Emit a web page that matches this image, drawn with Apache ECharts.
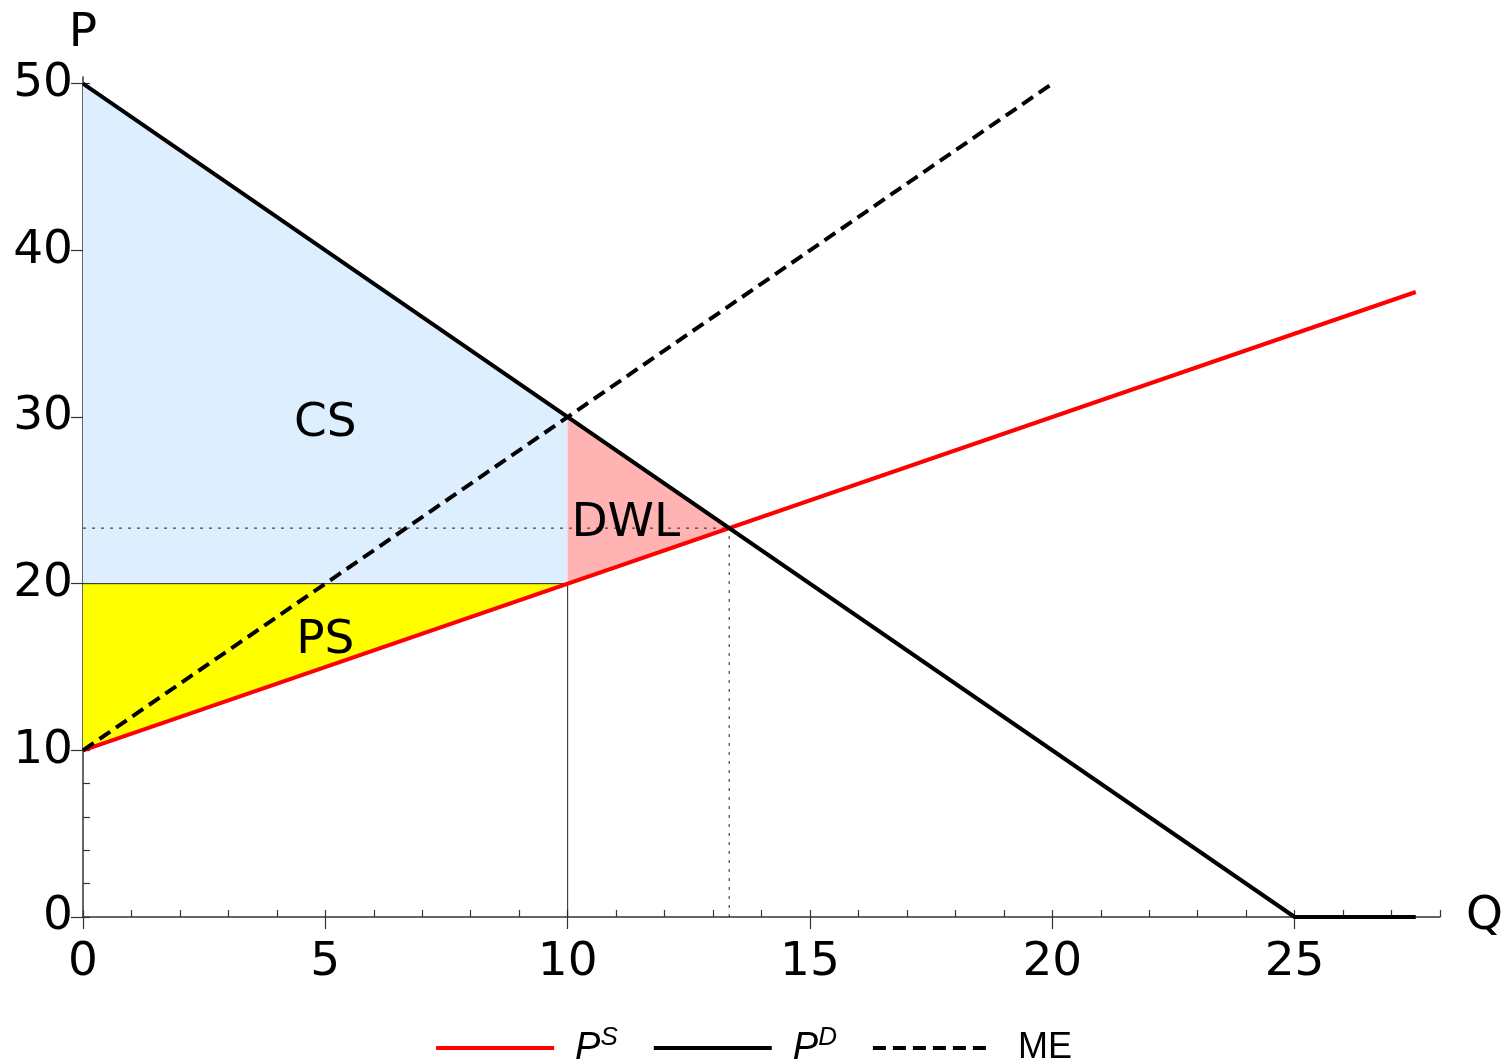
<!DOCTYPE html>
<html>
<head>
<meta charset="utf-8">
<script src="https://cdn.jsdelivr.net/npm/echarts@6/dist/echarts.min.js"></script>
<style>
  html, body { margin: 0; padding: 0; background: #fff; }
  #chart { width: 1506px; height: 1064px; }
</style>
</head>
<body>
<div id="chart"></div>
<script>
// curves (Q, P)
const supplyPts = [[0, 10], [27.5, 37.5]];
const demandPts = [[0, 50], [25, 0], [27.5, 0]];
const mePts = [[0, 10], [20, 50]];

// shaded areas
const csPoly = [[0, 50], [10, 30], [10, 20], [0, 20]];
const psPoly = [[0, 10], [10, 20], [0, 20]];
const dwlPoly = [[10, 20], [10, 30], [40 / 3, 70 / 3]];

// guide lines
const priceLine = [[0, 20], [10, 20]];
const qtyLine = [[10, 0], [10, 20]];
const eqPriceLine = [[0, 70 / 3], [40 / 3, 70 / 3]];
const eqQtyLine = [[40 / 3, 0], [40 / 3, 70 / 3]];

// area labels
const areaLabels = [
  { text: "CS", at: [5, 29.6] },
  { text: "PS", at: [5, 16.6] },
  { text: "DWL", at: [11.2, 23.6] },
];

// ticks
const xMajorTicks = [0, 5, 10, 15, 20, 25];
const xMinorTicks = [0, 1, 2, 3, 4, 5, 6, 7, 8, 9, 10, 11, 12, 13, 14, 15, 16, 17, 18, 19, 20, 21, 22, 23, 24, 25, 26, 27, 28];
const yMajorTicks = [0, 10, 20, 30, 40, 50];
const yMinorTicks = [0, 2, 4, 6, 8, 10, 12, 14, 16, 18, 20, 22, 24, 26, 28, 30, 32, 34, 36, 38, 40, 42, 44, 46, 48, 50];

const FONT = "DejaVu Sans";
const FONT_SIZE = 47;
const AXIS_COLOR = "#333";

function polygonSeries(points, color) {
  return {
    type: "custom",
    coordinateSystem: "cartesian2d",
    silent: true,
    z: 1,
    data: [0],
    renderItem: (params, api) => ({
      type: "polygon",
      shape: { points: points.map((p) => api.coord(p)) },
      style: { fill: color },
    }),
  };
}

function lineSeries(name, data, color, width, type, z) {
  return {
    name: name,
    type: "line",
    data: data,
    showSymbol: false,
    symbol: "none",
    silent: true,
    z: z,
    lineStyle: { color: color, width: width, type: type },
    itemStyle: { color: color },
  };
}

const chart = echarts.init(document.getElementById("chart"), null, { renderer: "canvas" });

const baseXAxis = {
  type: "value",
  min: 0,
  max: 28,
  splitLine: { show: false },
};
const baseYAxis = {
  type: "value",
  min: 0,
  max: 50.4,
  splitLine: { show: false },
};

const option = {
  animation: false,
  backgroundColor: "#fff",
  grid: { left: 83, right: 59, top: 77, bottom: 147, containLabel: false },
  legend: {
    top: 1020,
    left: "center",
    itemWidth: 118,
    itemHeight: 20,
    itemGap: 34,
    data: ["PS", "PD", "ME"],
    itemStyle: { opacity: 0 },
    lineStyle: { width: 4 },
    formatter: (name) => {
      if (name === "PS") return "{i|P}{s|S}";
      if (name === "PD") return "{i|P}{s|D}";
      return "{n|ME}";
    },
    textStyle: {
      fontFamily: "Liberation Sans",
      fontSize: 36,
      color: "#000",
      rich: {
        i: { fontFamily: "Liberation Sans", fontStyle: "italic", fontSize: 38, color: "#000", padding: [0, 0, 0, 16] },
        s: { fontFamily: "Liberation Sans", fontStyle: "italic", fontSize: 26, color: "#000", verticalAlign: "top", padding: [0, 0, 20, 0] },
        n: { fontFamily: "Liberation Sans", fontSize: 36, color: "#000", padding: [0, 0, 0, 22] },
      },
    },
  },
  xAxis: [
    Object.assign({}, baseXAxis, {
      name: "Q",
      nameLocation: "end",
      nameGap: 26,
      nameTextStyle: { fontFamily: FONT, fontSize: FONT_SIZE, color: "#000", verticalAlign: "middle" },
      axisLine: { show: true, onZero: false, lineStyle: { color: AXIS_COLOR, width: 1.5 } },
      axisTick: { show: true, inside: true, length: 7, customValues: xMinorTicks, lineStyle: { color: AXIS_COLOR, width: 1.2 } },
      axisLabel: { show: true, customValues: xMajorTicks, margin: 22, fontFamily: FONT, fontSize: FONT_SIZE, color: "#000" },
    }),
    Object.assign({}, baseXAxis, {
      axisLine: { show: false },
      axisTick: { show: true, inside: true, length: 12, customValues: xMajorTicks, lineStyle: { color: AXIS_COLOR, width: 1.2 } },
      axisLabel: { show: false },
    }),
  ],
  yAxis: [
    Object.assign({}, baseYAxis, {
      name: "P",
      nameLocation: "end",
      nameGap: 20,
      nameTextStyle: { fontFamily: FONT, fontSize: FONT_SIZE, color: "#000", align: "center" },
      axisLine: { show: true, onZero: false, lineStyle: { color: AXIS_COLOR, width: 1.5 } },
      axisTick: { show: true, inside: true, length: 7, customValues: yMinorTicks, lineStyle: { color: AXIS_COLOR, width: 1.2 } },
      axisLabel: { show: true, customValues: yMajorTicks, margin: 10, fontFamily: FONT, fontSize: FONT_SIZE, color: "#000" },
    }),
    Object.assign({}, baseYAxis, {
      axisLine: { show: false },
      axisTick: { show: true, inside: true, length: 12, customValues: yMajorTicks, lineStyle: { color: AXIS_COLOR, width: 1.2 } },
      axisLabel: { show: false },
    }),
  ],
  series: [
    polygonSeries(csPoly, "#ddeeff"),
    polygonSeries(psPoly, "#ffff00"),
    polygonSeries(dwlPoly, "#ffb3b3"),
    lineSeries("priceLine", priceLine, "#222", 1, "solid", 3),
    lineSeries("qtyLine", qtyLine, "#222", 1, "solid", 3),
    lineSeries("eqPriceLine", eqPriceLine, "#222", 1, [3, 6], 3),
    lineSeries("eqQtyLine", eqQtyLine, "#222", 1, [3, 6], 3),
    {
      type: "custom",
      coordinateSystem: "cartesian2d",
      silent: true,
      z: 4,
      data: areaLabels.map((d) => d.at),
      renderItem: (params, api) => {
        const pt = api.coord([api.value(0), api.value(1)]);
        return {
          type: "text",
          x: pt[0],
          y: pt[1],
          style: {
            text: areaLabels[params.dataIndex].text,
            fontFamily: FONT,
            fontSize: FONT_SIZE,
            fill: "#000",
            align: "center",
            verticalAlign: "middle",
          },
        };
      },
    },
    lineSeries("PS", supplyPts, "#ff0000", 4, "solid", 5),
    lineSeries("PD", demandPts, "#000", 4, "solid", 5),
    lineSeries("ME", mePts, "#000", 4, [13, 7], 5),
  ],
};

chart.setOption(option);
</script>
</body>
</html>
